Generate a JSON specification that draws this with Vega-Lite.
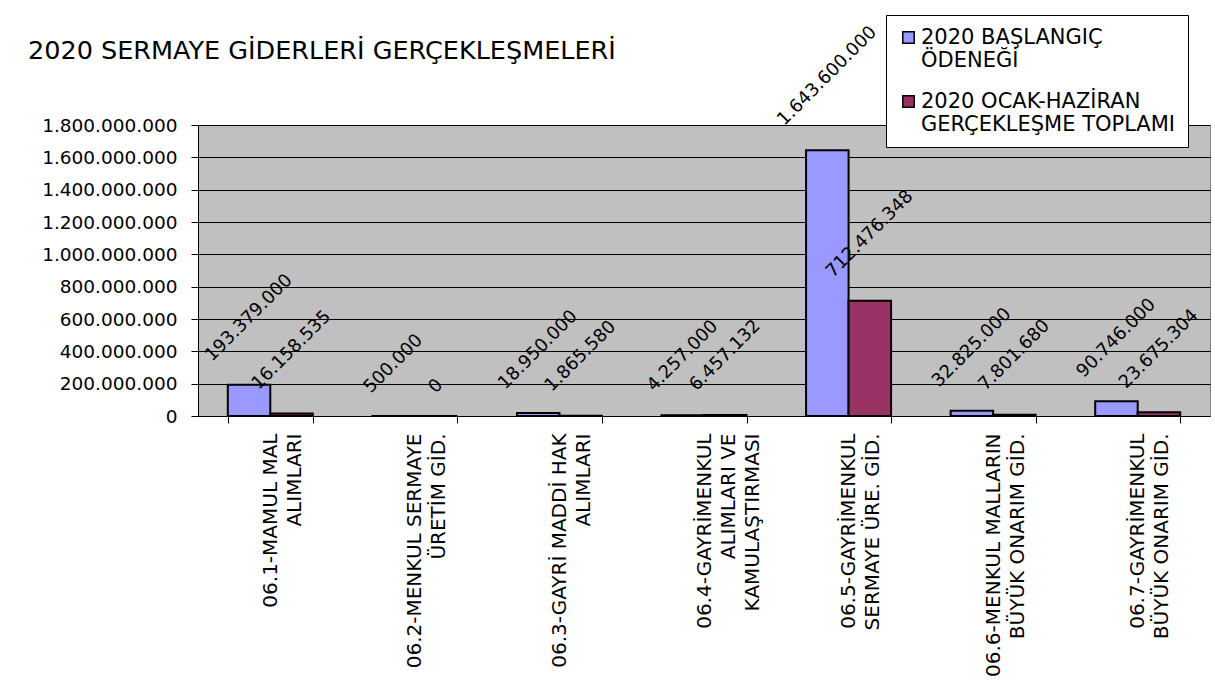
{
  "$schema": "https://vega.github.io/schema/vega-lite/v6.json",
  "autosize": "none",
  "width": 1012,
  "height": 291,
  "padding": {"left": 198, "top": 125, "right": 5, "bottom": 273},
  "background": "white",
  "title": {
    "text": "2020 SERMAYE GİDERLERİ GERÇEKLEŞMELERİ",
    "anchor": "start",
    "frame": "group",
    "dx": -170,
    "offset": -70,
    "baseline": "alphabetic",
    "font": "DejaVu Sans",
    "fontSize": 25.5,
    "fontWeight": "normal",
    "color": "black"
  },
  "config": {
    "locale": {"number": {"decimal": ",", "thousands": ".", "grouping": [3], "currency": ["", " ₺"]}},
    "font": "DejaVu Sans",
    "view": {"fill": "#C0C0C0", "stroke": "#808080", "strokeWidth": 1}
  },
  "data": {
    "values": [
      {"kalem": "06.1-MAMUL MAL\nALIMLARI", "seri": "2020 BAŞLANGIÇ\nÖDENEĞİ", "tutar": 193379000},
      {"kalem": "06.1-MAMUL MAL\nALIMLARI", "seri": "2020 OCAK-HAZİRAN\nGERÇEKLEŞME TOPLAMI", "tutar": 16158535},
      {"kalem": "06.2-MENKUL SERMAYE\nÜRETİM GİD.", "seri": "2020 BAŞLANGIÇ\nÖDENEĞİ", "tutar": 500000},
      {"kalem": "06.2-MENKUL SERMAYE\nÜRETİM GİD.", "seri": "2020 OCAK-HAZİRAN\nGERÇEKLEŞME TOPLAMI", "tutar": 0},
      {"kalem": "06.3-GAYRİ MADDİ HAK\nALIMLARI", "seri": "2020 BAŞLANGIÇ\nÖDENEĞİ", "tutar": 18950000},
      {"kalem": "06.3-GAYRİ MADDİ HAK\nALIMLARI", "seri": "2020 OCAK-HAZİRAN\nGERÇEKLEŞME TOPLAMI", "tutar": 1865580},
      {"kalem": "06.4-GAYRİMENKUL\nALIMLARI VE\nKAMULAŞTIRMASI", "seri": "2020 BAŞLANGIÇ\nÖDENEĞİ", "tutar": 4257000},
      {"kalem": "06.4-GAYRİMENKUL\nALIMLARI VE\nKAMULAŞTIRMASI", "seri": "2020 OCAK-HAZİRAN\nGERÇEKLEŞME TOPLAMI", "tutar": 6457132},
      {"kalem": "06.5-GAYRİMENKUL\nSERMAYE ÜRE. GİD.", "seri": "2020 BAŞLANGIÇ\nÖDENEĞİ", "tutar": 1643600000},
      {"kalem": "06.5-GAYRİMENKUL\nSERMAYE ÜRE. GİD.", "seri": "2020 OCAK-HAZİRAN\nGERÇEKLEŞME TOPLAMI", "tutar": 712476348},
      {"kalem": "06.6-MENKUL MALLARIN\nBÜYÜK ONARIM GİD.", "seri": "2020 BAŞLANGIÇ\nÖDENEĞİ", "tutar": 32825000},
      {"kalem": "06.6-MENKUL MALLARIN\nBÜYÜK ONARIM GİD.", "seri": "2020 OCAK-HAZİRAN\nGERÇEKLEŞME TOPLAMI", "tutar": 7801680},
      {"kalem": "06.7-GAYRİMENKUL\nBÜYÜK ONARIM GİD.", "seri": "2020 BAŞLANGIÇ\nÖDENEĞİ", "tutar": 90746000},
      {"kalem": "06.7-GAYRİMENKUL\nBÜYÜK ONARIM GİD.", "seri": "2020 OCAK-HAZİRAN\nGERÇEKLEŞME TOPLAMI", "tutar": 23675304}
    ]
  },
  "encoding": {
    "x": {
      "field": "kalem",
      "type": "nominal",
      "sort": null,
      "scale": {"paddingInner": 0.412, "paddingOuter": 0.206},
      "axis": {
        "title": null,
        "labelExpr": "split(datum.label, '\\n')",
        "labelAngle": 270,
        "labelFont": "DejaVu Sans",
        "labelFontSize": 20,
        "labelLineHeight": 24,
        "labelColor": "black",
        "labelLimit": 400,
        "labelPadding": 10,
        "tickBand": "extent",
        "tickSize": 7,
        "tickColor": "black",
        "domainColor": "black",
        "grid": false
      }
    },
    "xOffset": {
      "field": "seri",
      "type": "nominal",
      "sort": null,
      "scale": {"paddingInner": 0, "paddingOuter": 0}
    },
    "y": {
      "field": "tutar",
      "type": "quantitative",
      "stack": null,
      "scale": {"domain": [0, 1800000000], "nice": false},
      "axis": {
        "title": null,
        "values": [0, 200000000, 400000000, 600000000, 800000000, 1000000000, 1200000000, 1400000000, 1600000000, 1800000000],
        "format": ",d",
        "labelFont": "DejaVu Sans",
        "labelFontSize": 18.5,
        "labelColor": "black",
        "labelPadding": 14,
        "tickSize": 7,
        "tickColor": "black",
        "domainColor": "black",
        "grid": true,
        "gridColor": "black",
        "gridWidth": 1,
        "gridOpacity": 1
      }
    }
  },
  "layer": [
    {
      "mark": {"type": "bar", "stroke": "black", "strokeWidth": 2},
      "encoding": {
        "color": {
          "field": "seri",
          "type": "nominal",
          "sort": null,
          "scale": {"range": ["#9999FF", "#993366"]},
          "legend": {
            "title": null,
            "orient": "none",
            "legendX": 688,
            "legendY": -110,
            "fillColor": "white",
            "strokeColor": "black",
            "padding": 12,
            "labelExpr": "split(datum.label, '\\n')",
            "labelFont": "DejaVu Sans",
            "labelFontSize": 21,
            "labelColor": "black",
            "labelLimit": 400,
            "labelOffset": 2,
            "rowPadding": 19,
            "symbolType": "square",
            "symbolSize": 130,
            "symbolStrokeColor": "black",
            "symbolStrokeWidth": 1.5,
            "symbolOpacity": 1
          }
        }
      }
    },
    {
      "mark": {
        "type": "text",
        "angle": 315,
        "align": "center",
        "baseline": "middle",
        "font": "DejaVu Sans",
        "fontSize": 18,
        "color": "black",
        "dx": {"expr": "0.7071 * (26 + 3.7 * length(format(datum.tutar, ',d')))"},
        "dy": {"expr": "-0.7071 * (26 + 3.7 * length(format(datum.tutar, ',d')))"}
      },
      "encoding": {
        "text": {"field": "tutar", "type": "quantitative", "format": ",d"}
      }
    }
  ]
}
